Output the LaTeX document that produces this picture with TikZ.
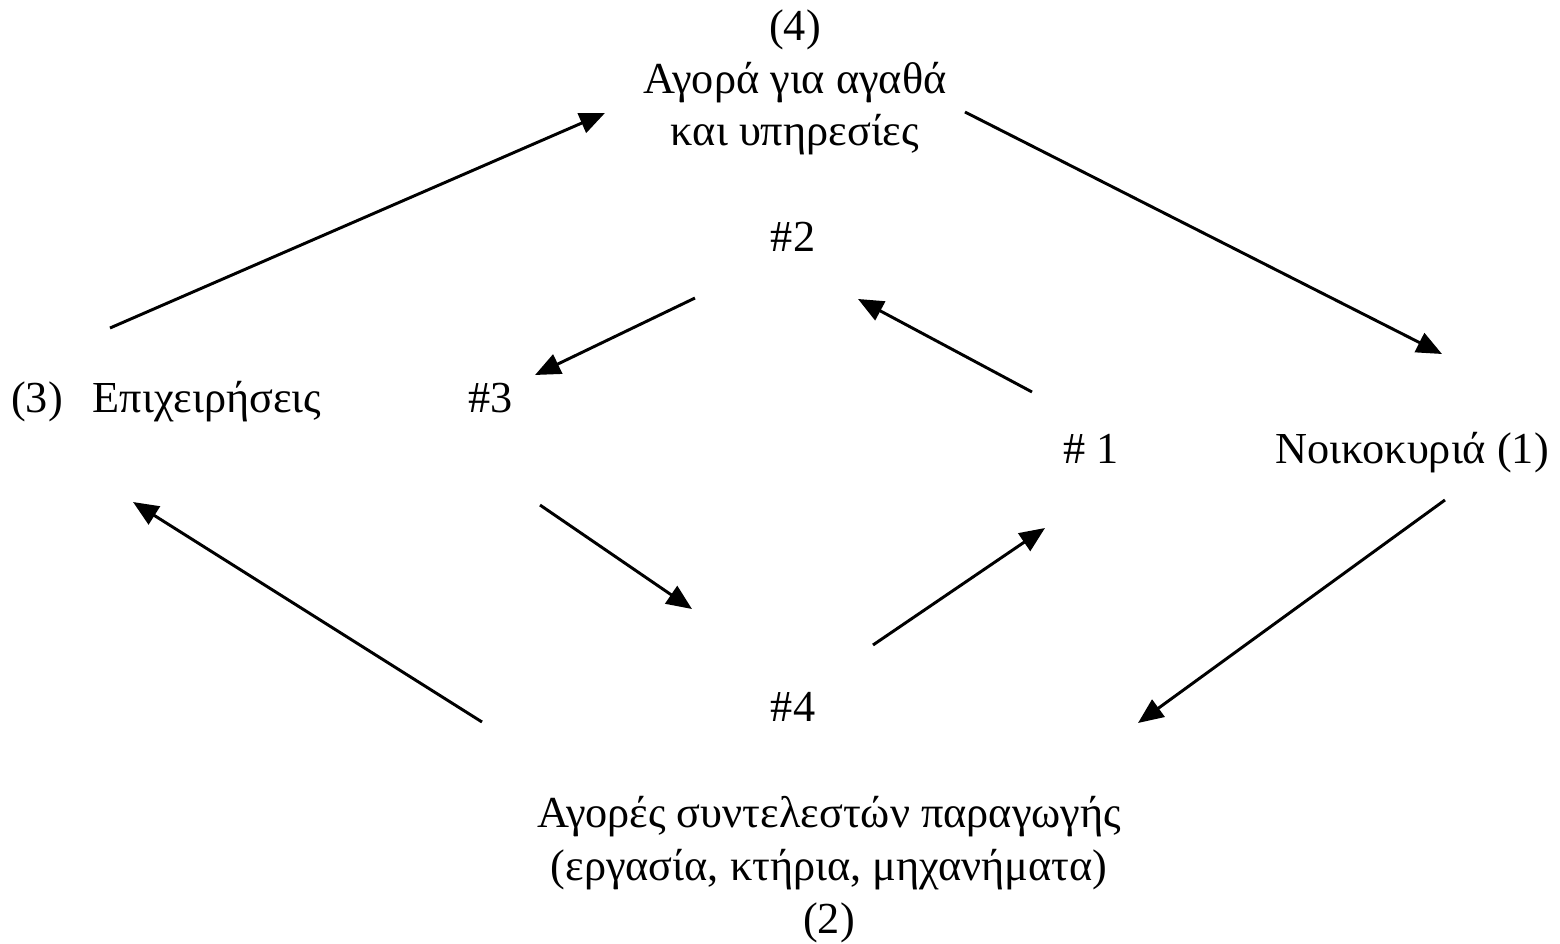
\documentclass[tikz,border=0pt]{standalone}
\usepackage{fontspec}
\setmainfont{Liberation Serif}
\usetikzlibrary{arrows.meta}
\begin{document}
\begin{tikzpicture}[
    lbl/.style={anchor=base, inner sep=0pt, align=center, font=\fontsize{21}{25}\selectfont},
    flow/.style={-{Triangle[length=12pt, width=10pt]}, line width=1.4pt}
]
    \useasboundingbox (0,0) rectangle (26,-15.717);

    % sectors and markets
    \node[lbl] (goods) at (13.25,-2.433) {(4)\\Αγορά για αγαθά\\και υπηρεσίες};
    \node[lbl] (firmsno) at (0.617,-6.867) {(3)};
    \node[lbl] (firms) at (3.45,-6.867) {Επιχειρήσεις};
    \node[lbl] (homes) at (23.533,-7.733) {Νοικοκυριά (1)};
    \node[lbl] (factors) at (13.817,-15.55) {Αγορές συντελεστών παραγωγής\\(εργασία, κτήρια, μηχανήματα)\\(2)};

    % inner labels
    \node[lbl] (h1) at (18.183,-7.733) {\# 1};
    \node[lbl] (h2) at (13.217,-4.2) {\#2};
    \node[lbl] (h3) at (8.183,-6.867) {\#3};
    \node[lbl] (h4) at (13.217,-12.033) {\#4};

    % arrow ends, outer loop
    \coordinate (o1s) at (1.833,-5.467);  \coordinate (o1e) at (10.083,-1.883);
    \coordinate (o2s) at (16.083,-1.867); \coordinate (o2e) at (24.033,-5.9);
    \coordinate (o3s) at (24.083,-8.333); \coordinate (o3e) at (18.967,-12.05);
    \coordinate (o4s) at (8.033,-12.033); \coordinate (o4e) at (2.217,-8.367);
    % arrow ends, inner loop
    \coordinate (i1s) at (17.2,-6.533);   \coordinate (i1e) at (14.3,-4.983);
    \coordinate (i2s) at (11.583,-4.967); \coordinate (i2e) at (8.917,-6.25);
    \coordinate (i3s) at (9.0,-8.417);    \coordinate (i3e) at (11.533,-10.15);
    \coordinate (i4s) at (14.55,-10.75);  \coordinate (i4e) at (17.417,-8.8);

    \draw[flow] (o1s) -- (o1e);
    \draw[flow] (o2s) -- (o2e);
    \draw[flow] (o3s) -- (o3e);
    \draw[flow] (o4s) -- (o4e);

    \draw[flow] (i1s) -- (i1e);
    \draw[flow] (i2s) -- (i2e);
    \draw[flow] (i3s) -- (i3e);
    \draw[flow] (i4s) -- (i4e);
\end{tikzpicture}
\end{document}
